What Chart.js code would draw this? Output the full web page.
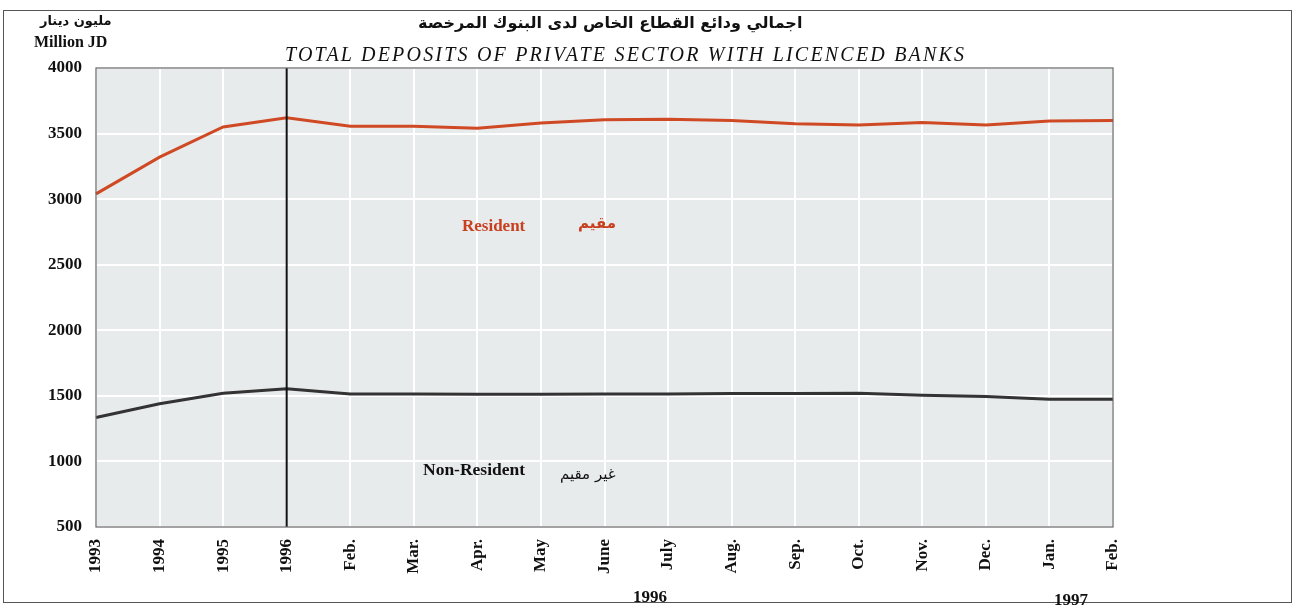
<!DOCTYPE html>
<html>
<head>
<meta charset="utf-8">
<script src="https://cdn.jsdelivr.net/npm/chart.js@4/dist/chart.umd.min.js"></script>
<style>
	html, body { margin: 0; padding: 0; background: #fff; }
	body { width: 1299px; height: 615px; position: relative; overflow: hidden; font-family: 'Liberation Serif', serif; }
	#frame { position: absolute; left: 3px; top: 10px; width: 1289px; height: 593px; border: 1.5px solid #555; box-sizing: border-box; }
	#wrap { position: absolute; left: 0; top: 0; width: 1299px; height: 615px; }
	.t { position: absolute; white-space: nowrap; font-weight: bold; color: #111; }
	.ar { font-family: 'DejaVu Sans', sans-serif; direction: rtl; }
</style>
</head>
<body>
<div id="frame"></div>
<div id="wrap"><canvas id="depositsChart" width="1299" height="615"></canvas></div>

<div class="t ar" style="left:418px; top:13px; font-size:16px;">اجمالي ودائع القطاع الخاص لدى البنوك المرخصة</div>
<div class="t" style="left:285px; top:43px; font-size:20px; font-style:italic; font-weight:normal; letter-spacing:2.2px;">TOTAL DEPOSITS OF PRIVATE SECTOR WITH LICENCED BANKS</div>
<div class="t ar" style="left:40px; top:13px; font-size:13px;">مليون دينار</div>
<div class="t" style="left:34px; top:33px; font-size:16px;">Million JD</div>

<div class="t" style="left:462px; top:216px; font-size:17px; color:#c8401f;">Resident</div>
<div class="t ar" style="left:578px; top:214px; font-size:15px; color:#c8401f;">مقيم</div>
<div class="t" style="left:423px; top:459px; font-size:17.5px;">Non-Resident</div>
<div class="t ar" style="left:560px; top:465px; font-size:15px; font-weight:normal;">غير مقيم</div>

<div class="t" style="left:633px; top:587px; font-size:17px;">1996</div>
<div class="t" style="left:1054px; top:590px; font-size:17px;">1997</div>

<script>
const categories = ['1993', '1994', '1995', '1996', 'Feb.', 'Mar.', 'Apr.', 'May', 'June', 'July', 'Aug.', 'Sep.', 'Oct.', 'Nov.', 'Dec.', 'Jan.', 'Feb.'];
const resident = [3040, 3320, 3550, 3620, 3555, 3555, 3540, 3580, 3605, 3610, 3600, 3575, 3565, 3585, 3565, 3595, 3600];
const nonResident = [1335, 1440, 1520, 1555, 1515, 1515, 1512, 1512, 1515, 1515, 1518, 1518, 1520, 1505, 1495, 1475, 1475];
const yTicks = [500, 1000, 1500, 2000, 2500, 3000, 3500, 4000];
const markerIndex = 3; // vertical rule at 1996

const plotDecor = {
	id: 'plotDecor',
	beforeDraw(chart) {
		const { ctx, chartArea: a } = chart;
		ctx.save();
		ctx.fillStyle = '#e8ebec';
		ctx.fillRect(a.left, a.top, a.right - a.left, a.bottom - a.top);
		ctx.restore();
	},
	afterDatasetsDraw(chart) {
		const { ctx, chartArea: a } = chart;
		const x = chart.scales.x.getPixelForValue(markerIndex);
		ctx.save();
		ctx.strokeStyle = '#111';
		ctx.lineWidth = 2;
		ctx.beginPath();
		ctx.moveTo(x, a.top);
		ctx.lineTo(x, a.bottom);
		ctx.stroke();
		ctx.strokeStyle = '#666';
		ctx.lineWidth = 1.2;
		ctx.strokeRect(a.left, a.top, a.right - a.left, a.bottom - a.top);
		ctx.restore();
	},
};

new Chart(document.getElementById('depositsChart'), {
	type: 'line',
	data: {
		labels: categories,
		datasets: [
			{ data: resident, borderColor: '#cf4a24', borderWidth: 3, pointRadius: 0, tension: 0 },
			{ data: nonResident, borderColor: '#333', borderWidth: 3, pointRadius: 0, tension: 0 },
		],
	},
	options: {
		responsive: false,
		animation: false,
		layout: { padding: { top: 68, right: 186, bottom: 0, left: 0 } },
		plugins: { legend: { display: false }, tooltip: { enabled: false } },
		scales: {
			x: {
				offset: false,
				afterFit: (s) => { s.height = 88; },
				grid: { color: '#ffffff', lineWidth: 2, drawTicks: false },
				border: { display: false },
				ticks: {
					minRotation: 90, maxRotation: 90, padding: 12, autoSkip: false,
					color: '#111', font: { family: 'Liberation Serif', size: 17, weight: 'bold' },
				},
			},
			y: {
				min: 500, max: 4000,
				afterFit: (s) => { s.width = 96; },
				afterBuildTicks: (s) => { s.ticks = yTicks.map((v) => ({ value: v })); },
				grid: { color: '#ffffff', lineWidth: 2, drawTicks: false },
				border: { display: false },
				ticks: {
					padding: 14, color: '#111',
					callback: (v) => String(v),
					font: { family: 'Liberation Serif', size: 17, weight: 'bold' },
				},
			},
		},
	},
	plugins: [plotDecor],
});
</script>
</body>
</html>
